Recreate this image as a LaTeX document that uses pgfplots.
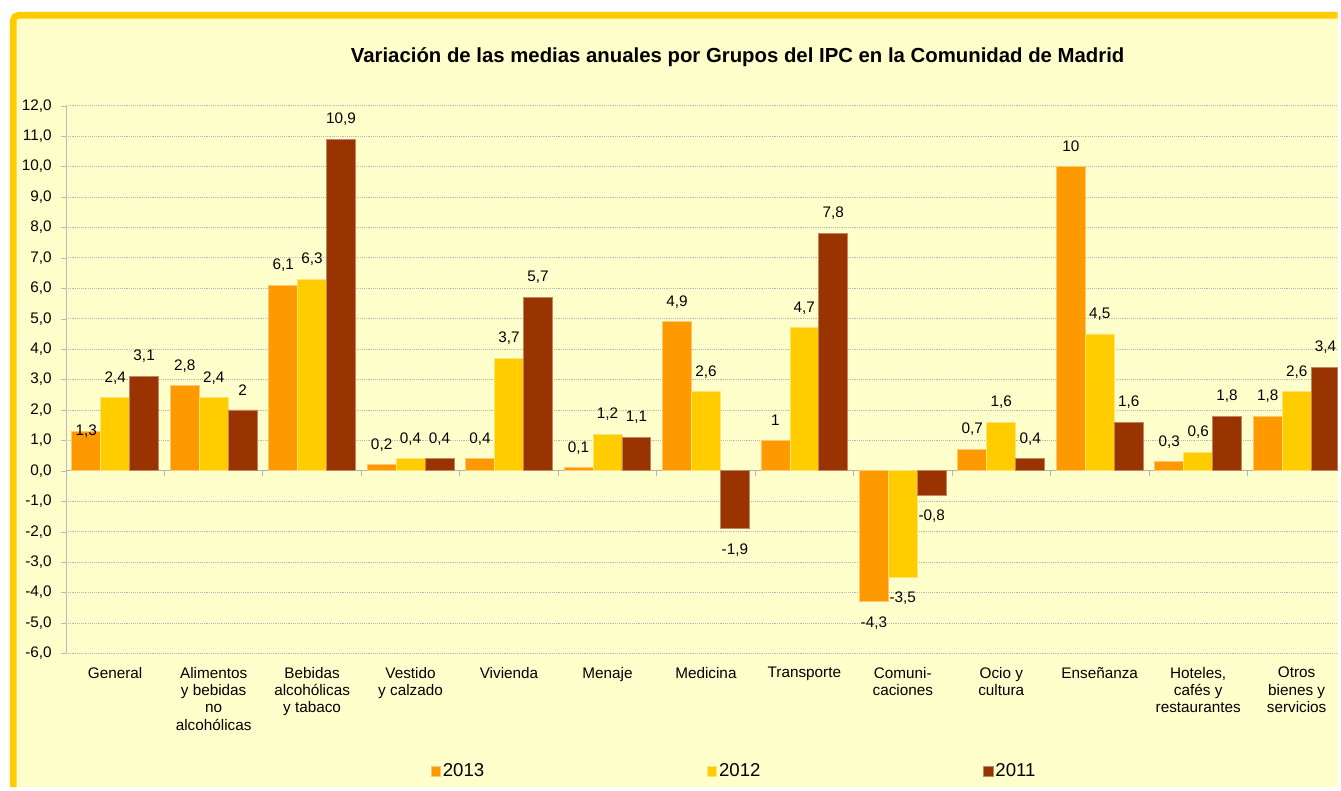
\documentclass[border=0pt]{standalone}
\usepackage{pgfplots}
\pgfplotsset{compat=1.18}
\usepackage{pgfplotstable}
\usepackage{fontspec}
\setmainfont{Liberation Sans}
\definecolor{bgc}{HTML}{FFFFCC}
\definecolor{frm}{HTML}{FFCC00}
\definecolor{cA}{HTML}{FF9900}
\definecolor{cB}{HTML}{FFCC00}
\definecolor{cC}{HTML}{993300}
\definecolor{grd}{HTML}{B8B8B8}

\pgfplotstableread{
x y lab dy
0 1.3 1,3 0
1 2.8 2,8 15
2 6.1 6,1 15
3 0.2 0,2 15
4 0.4 0,4 15
5 0.1 0,1 15
6 4.9 4,9 15
7 1 1 15
8 -4.3 -4,3 -16
9 0.7 0,7 15
10 10 10 15
11 0.3 0,3 15
12 1.8 1,8 15
}\tA
\pgfplotstableread{
x y lab dy
0 2.4 2,4 15
1 2.4 2,4 15
2 6.3 6,3 15
3 0.4 0,4 15
4 3.7 3,7 15
5 1.2 1,2 15
6 2.6 2,6 15
7 4.7 4,7 15
8 -3.5 -3,5 -16
9 1.6 1,6 15
10 4.5 4,5 15
11 0.6 0,6 15
12 2.6 2,6 15
}\tB
\pgfplotstableread{
x y lab dy
0 3.1 3,1 15
1 2 2 15
2 10.9 10,9 15
3 0.4 0,4 15
4 5.7 5,7 15
5 1.1 1,1 15
6 -1.9 -1,9 -16
7 7.8 7,8 15
8 -0.8 -0,8 -16
9 0.4 0,4 15
10 1.6 1,6 15
11 1.8 1,8 15
12 3.4 3,4 15
}\tC

\begin{document}
\begin{tikzpicture}
\fill[white] (0,0) rectangle (1005.75pt,591.75pt);
\fill[bgc] (12.5pt,0) rectangle (1005.75pt,578pt);
\draw[frm, line width=5pt, rounded corners=4pt] (10pt,0pt) -- (10pt,580.3pt) -- (1005.75pt,580.3pt);
\begin{axis}[
  at={(49.6pt,100.5pt)}, anchor=south west,
  scale only axis, width=956.15pt, height=411.75pt,
  ybar=0pt, bar width=21.75pt,
  xmin=-0.5, xmax=12.417, ymin=-6, ymax=12,
  xtick={0,...,12},
  xticklabels={General,{Alimentos\\y bebidas\\no\\alcohólicas},{Bebidas\\alcohólicas\\y tabaco},{Vestido\\y calzado},Vivienda,Menaje,Medicina,Transporte,{Comuni-\\caciones},{Ocio y\\cultura},Enseñanza,{Hoteles,\\cafés y\\restaurantes},{Otros\\bienes y\\servicios}},
  ytick={-6,-5,...,12},
  axis y line*=left, axis x line*=bottom,
  x axis line style={draw=none},
  y axis line style={draw=gray!55},
  ymajorgrids, grid style={grd, densely dotted, line width=0.6pt},
  tick align=outside,
  x tick style={draw=none}, y tick style={draw=gray!55},
  major tick length=3.75pt,
  xticklabel style={align=center, font=\fontsize{11.5}{13}\selectfont, yshift=-3pt},
  yticklabel style={font=\fontsize{11.5}{13}\selectfont, xshift=-3.5pt},
  /pgf/number format/.cd, fixed, fixed zerofill, precision=1, use comma, assume math mode=true,
  /pgfplots/.cd,
  point meta=explicit symbolic,
  nodes near coords,
  visualization depends on={\thisrow{dy} \as \dy},
  nodes near coords style={font=\fontsize{11.5}{13}\selectfont, anchor=center, yshift=\dy pt, text=black},
  legend columns=3,
  legend style={at={(0.2866,-0.2153)}, anchor=west, draw=none, fill=none, inner sep=0pt,
    font=\fontsize{14}{16}\selectfont, nodes={inner sep=1.5pt},
    /tikz/every even column/.append style={column sep=166pt}},
  legend image code/.code={\fill[#1] (0pt,-3.5pt) rectangle (7pt,3.5pt);},
]
\draw[gray!60, line width=0.6pt] (axis cs:-0.5,0) -- (axis cs:12.417,0);
\pgfplotsinvokeforeach{-0.5,0.5,...,12.5}{\draw[gray!60, line width=0.6pt] (axis cs:#1,0) -- ([yshift=-3.75pt]axis cs:#1,0);}
\addplot[fill=cA, draw=cA!55!white, line width=0.6pt] table[x=x, y=y, meta=lab] {\tA};
\addplot[fill=cB, draw=cB!55!white, line width=0.6pt] table[x=x, y=y, meta=lab] {\tB};
\addplot[fill=cC, draw=cC!60!white, line width=0.6pt] table[x=x, y=y, meta=lab] {\tC};
\legend{2013,2012,2011}
\end{axis}
\node[anchor=base, font=\bfseries\fontsize{15.3}{17}\selectfont] at (554.6pt,545pt) {Variación de las medias anuales por Grupos del IPC en la Comunidad de Madrid};
\end{tikzpicture}
\end{document}
